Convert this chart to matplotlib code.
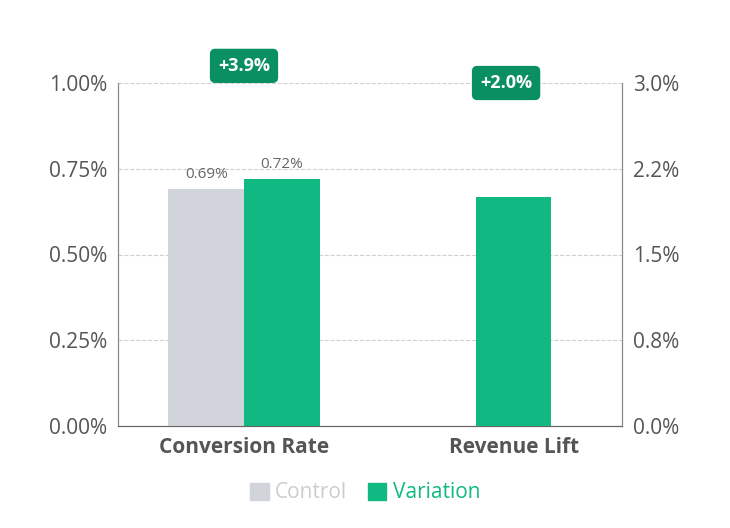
import matplotlib.pyplot as plt
from matplotlib.patches import Patch

categories = ["Conversion Rate", "Revenue Lift"]
control_cr = 0.69
variation_cr = 0.72
revenue_lift = 2.0
badges = ["+3.9%", "+2.0%"]
left_ticks = [0, 0.25, 0.5, 0.75, 1.0]
right_ticks = [0, 0.75, 1.5, 2.25, 3.0]

c_control = "#d1d5db"
c_var = "#10b981"
c_badge = "#0a8f63"
txt = "#555555"

plt.rcParams["font.family"] = ["Open Sans", "DejaVu Sans"]
fig = plt.figure(figsize=(7.3, 5.28), dpi=100)
ax = fig.add_axes([118 / 730, 1 - 426 / 528, 504 / 730, 343 / 528])
ax2 = ax.twinx()

w = 0.3
ax.bar(0.5 - w / 2, control_cr, w, color=c_control, zorder=3)
ax.bar(0.5 + w / 2, variation_cr, w, color=c_var, zorder=3)
ax.text(0.5 - w / 2, control_cr + 0.02, f"{control_cr:.2f}%", ha="center", va="bottom", fontsize=11, color="#666")
ax.text(0.5 + w / 2, variation_cr + 0.02, f"{variation_cr:.2f}%", ha="center", va="bottom", fontsize=11, color="#666")
ax2.bar(1.5 + 0.07, revenue_lift, w, color=c_var, zorder=3)

ax.set_xlim(0, 2)
ax.set_ylim(0, 1)
ax2.set_ylim(0, 3)
ax.set_yticks(left_ticks)
ax.set_yticklabels([f"{v:.2f}%" for v in left_ticks])
ax2.set_yticks(right_ticks)
ax2.set_yticklabels([f"{v:.1f}%" for v in right_ticks])
ax.set_xticks([0.5, 1.57])
ax.set_xticklabels(categories, fontweight="bold")
for a in (ax, ax2):
    a.tick_params(length=0, labelsize=15, labelcolor=txt, pad=8)
    for s in ("top",):
        a.spines[s].set_visible(False)
    a.spines["left"].set_color("#888")
    a.spines["right"].set_color("#888")
    a.spines["bottom"].set_color("#666")
ax.grid(axis="y", linestyle="--", color="#d0d0d0", zorder=0)
ax.set_axisbelow(True)

bbox = dict(boxstyle="round,pad=0.45,rounding_size=0.3", fc=c_badge, ec="none")
ax.text(0.5, 1.05, badges[0], ha="center", va="center", fontsize=13, fontweight="bold",
        color="white", bbox=dict(bbox, pad=0.6), clip_on=False)
ax.text(1.54, 1.0, badges[1], ha="center", va="center", fontsize=13, fontweight="bold",
        color="white", bbox=dict(bbox, pad=0.6), clip_on=False, zorder=5)

leg = fig.legend(handles=[Patch(color=c_control, label="Control"), Patch(color=c_var, label="Variation")],
                 loc="center", bbox_to_anchor=(0.5, 1 - 493 / 528), ncol=2, frameon=False,
                 fontsize=15, handlelength=0.9, handleheight=0.9, handletextpad=0.3, columnspacing=1.0)
leg.get_texts()[0].set_color("#cccccc")
leg.get_texts()[1].set_color(c_var)

fig.savefig("out.png", dpi=100)
